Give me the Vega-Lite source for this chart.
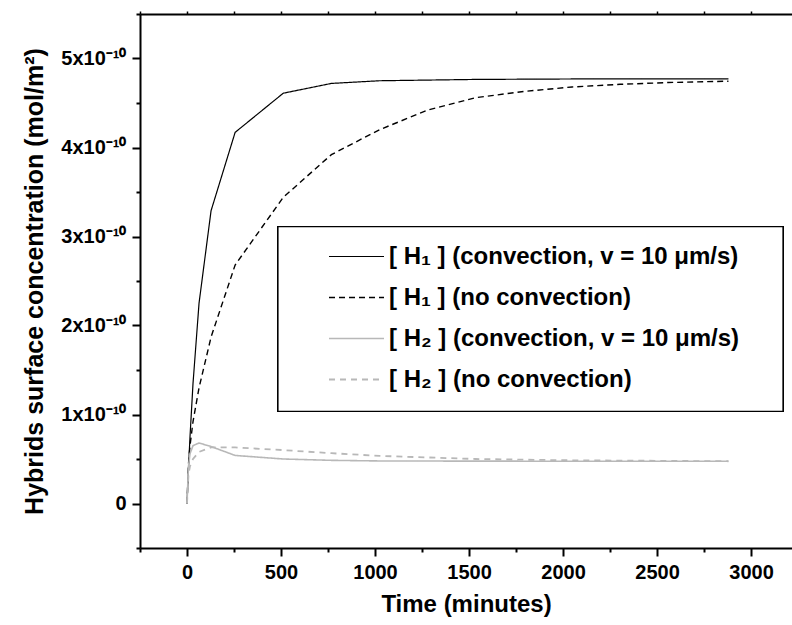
{
  "$schema": "https://vega.github.io/schema/vega-lite/v6.json",
  "width": 652,
  "height": 534,
  "autosize": {"type": "none"},
  "padding": {"left": 140, "top": 14, "right": 0, "bottom": 77},
  "background": "white",
  "config": {"view": {"stroke": null}, "font": "Liberation Sans"},
  "data": {
    "values": [
      {"t": 0, "c": 0, "s": "[ H₁ ] (convection, v = 10 μm/s)"},
      {"t": 8, "c": 0.4e-10, "s": "[ H₁ ] (convection, v = 10 μm/s)"},
      {"t": 16, "c": 0.75e-10, "s": "[ H₁ ] (convection, v = 10 μm/s)"},
      {"t": 32, "c": 1.35e-10, "s": "[ H₁ ] (convection, v = 10 μm/s)"},
      {"t": 64, "c": 2.25e-10, "s": "[ H₁ ] (convection, v = 10 μm/s)"},
      {"t": 128, "c": 3.29e-10, "s": "[ H₁ ] (convection, v = 10 μm/s)"},
      {"t": 256, "c": 4.17e-10, "s": "[ H₁ ] (convection, v = 10 μm/s)"},
      {"t": 512, "c": 4.61e-10, "s": "[ H₁ ] (convection, v = 10 μm/s)"},
      {"t": 768, "c": 4.72e-10, "s": "[ H₁ ] (convection, v = 10 μm/s)"},
      {"t": 1024, "c": 4.75e-10, "s": "[ H₁ ] (convection, v = 10 μm/s)"},
      {"t": 1536, "c": 4.765e-10, "s": "[ H₁ ] (convection, v = 10 μm/s)"},
      {"t": 2048, "c": 4.77e-10, "s": "[ H₁ ] (convection, v = 10 μm/s)"},
      {"t": 2880, "c": 4.77e-10, "s": "[ H₁ ] (convection, v = 10 μm/s)"},
      {"t": 0, "c": 0, "s": "[ H₁ ] (no convection)"},
      {"t": 8, "c": 0.45e-10, "s": "[ H₁ ] (no convection)"},
      {"t": 16, "c": 0.65e-10, "s": "[ H₁ ] (no convection)"},
      {"t": 32, "c": 0.92e-10, "s": "[ H₁ ] (no convection)"},
      {"t": 64, "c": 1.3e-10, "s": "[ H₁ ] (no convection)"},
      {"t": 128, "c": 1.87e-10, "s": "[ H₁ ] (no convection)"},
      {"t": 256, "c": 2.68e-10, "s": "[ H₁ ] (no convection)"},
      {"t": 512, "c": 3.44e-10, "s": "[ H₁ ] (no convection)"},
      {"t": 768, "c": 3.92e-10, "s": "[ H₁ ] (no convection)"},
      {"t": 1024, "c": 4.2e-10, "s": "[ H₁ ] (no convection)"},
      {"t": 1280, "c": 4.42e-10, "s": "[ H₁ ] (no convection)"},
      {"t": 1536, "c": 4.56e-10, "s": "[ H₁ ] (no convection)"},
      {"t": 1792, "c": 4.63e-10, "s": "[ H₁ ] (no convection)"},
      {"t": 2048, "c": 4.68e-10, "s": "[ H₁ ] (no convection)"},
      {"t": 2304, "c": 4.71e-10, "s": "[ H₁ ] (no convection)"},
      {"t": 2560, "c": 4.73e-10, "s": "[ H₁ ] (no convection)"},
      {"t": 2880, "c": 4.745e-10, "s": "[ H₁ ] (no convection)"},
      {"t": 0, "c": 0, "s": "[ H₂ ] (convection, v = 10 μm/s)"},
      {"t": 8, "c": 0.42e-10, "s": "[ H₂ ] (convection, v = 10 μm/s)"},
      {"t": 16, "c": 0.56e-10, "s": "[ H₂ ] (convection, v = 10 μm/s)"},
      {"t": 32, "c": 0.65e-10, "s": "[ H₂ ] (convection, v = 10 μm/s)"},
      {"t": 64, "c": 0.68e-10, "s": "[ H₂ ] (convection, v = 10 μm/s)"},
      {"t": 128, "c": 0.64e-10, "s": "[ H₂ ] (convection, v = 10 μm/s)"},
      {"t": 256, "c": 0.54e-10, "s": "[ H₂ ] (convection, v = 10 μm/s)"},
      {"t": 512, "c": 0.5e-10, "s": "[ H₂ ] (convection, v = 10 μm/s)"},
      {"t": 768, "c": 0.485e-10, "s": "[ H₂ ] (convection, v = 10 μm/s)"},
      {"t": 1024, "c": 0.478e-10, "s": "[ H₂ ] (convection, v = 10 μm/s)"},
      {"t": 1536, "c": 0.476e-10, "s": "[ H₂ ] (convection, v = 10 μm/s)"},
      {"t": 2048, "c": 0.475e-10, "s": "[ H₂ ] (convection, v = 10 μm/s)"},
      {"t": 2880, "c": 0.475e-10, "s": "[ H₂ ] (convection, v = 10 μm/s)"},
      {"t": 0, "c": 0, "s": "[ H₂ ] (no convection)"},
      {"t": 8, "c": 0.33e-10, "s": "[ H₂ ] (no convection)"},
      {"t": 16, "c": 0.42e-10, "s": "[ H₂ ] (no convection)"},
      {"t": 32, "c": 0.5e-10, "s": "[ H₂ ] (no convection)"},
      {"t": 64, "c": 0.58e-10, "s": "[ H₂ ] (no convection)"},
      {"t": 128, "c": 0.63e-10, "s": "[ H₂ ] (no convection)"},
      {"t": 256, "c": 0.63e-10, "s": "[ H₂ ] (no convection)"},
      {"t": 512, "c": 0.6e-10, "s": "[ H₂ ] (no convection)"},
      {"t": 768, "c": 0.565e-10, "s": "[ H₂ ] (no convection)"},
      {"t": 1024, "c": 0.535e-10, "s": "[ H₂ ] (no convection)"},
      {"t": 1536, "c": 0.5e-10, "s": "[ H₂ ] (no convection)"},
      {"t": 2048, "c": 0.485e-10, "s": "[ H₂ ] (no convection)"},
      {"t": 2880, "c": 0.475e-10, "s": "[ H₂ ] (no convection)"}
    ]
  },
  "layer": [
    {
      "mark": {"type": "rect", "fill": "white", "stroke": "black", "strokeWidth": 1.2},
      "encoding": {
        "x": {"datum": 484, "type": "quantitative", "axis": null},
        "x2": {"datum": 3170},
        "y": {"datum": 3.112e-10, "type": "quantitative"},
        "y2": {"datum": 1.034e-10}
      }
    },
    {
      "mark": {"type": "line", "clip": true},
      "encoding": {
        "x": {
          "field": "t", "type": "quantitative",
          "scale": {"domain": [-250, 3218], "nice": false, "zero": false},
          "axis": {
            "orient": "bottom",
            "values": [-250, 0, 250, 500, 750, 1000, 1250, 1500, 1750, 2000, 2250, 2500, 2750, 3000],
            "labelExpr": "datum.value >= 0 && datum.value % 500 == 0 ? '' + datum.value : ''",
            "labelFont": "Liberation Sans", "labelFontSize": 20, "labelFontWeight": "bold", "labelColor": "black",
            "labelPadding": 6, "labelOverlap": false, "labelBound": false, "labelFlush": false,
            "tickSize": {"condition": {"test": "datum.value % 500 == 0", "value": 8}, "value": 4},
            "tickWidth": 2, "tickColor": "black", "domainColor": "black", "domainWidth": 2, "grid": false,
            "title": "Time (minutes)", "titleFont": "Liberation Sans", "titleFontSize": 24, "titleFontWeight": "bold",
            "titleColor": "black", "titlePadding": 10
          }
        },
        "y": {
          "field": "c", "type": "quantitative",
          "scale": {"domain": [-5e-11, 5.5e-10], "nice": false, "zero": false},
          "axis": {
            "orient": "left",
            "values": [-5e-11, 0, 5e-11, 1e-10, 1.5e-10, 2e-10, 2.5e-10, 3e-10, 3.5e-10, 4e-10, 4.5e-10, 5e-10, 5.5e-10],
            "labelExpr": "abs(datum.value*1e10 - round(datum.value*1e10)) > 0.01 ? '' : (abs(datum.value) < 1e-12 ? '0' : format(round(datum.value*1e10), 'd') + 'x10⁻¹⁰')",
            "labelFont": "Liberation Sans", "labelFontSize": 20, "labelFontWeight": "bold", "labelColor": "black",
            "labelPadding": 6, "labelOverlap": false, "labelBound": false, "labelFlush": false,
            "tickSize": {"condition": {"test": "abs(datum.value*1e10 - round(datum.value*1e10)) < 0.01", "value": 8}, "value": 4},
            "tickWidth": 2, "tickColor": "black", "domainColor": "black", "domainWidth": 2, "grid": false,
            "title": "Hybrids surface concentration (mol/m²)", "titleFont": "Liberation Sans", "titleFontSize": 25,
            "titleFontWeight": "bold", "titleColor": "black", "titlePadding": 13
          }
        },
        "color": {
          "field": "s", "type": "nominal",
          "scale": {
            "domain": ["[ H₁ ] (convection, v = 10 μm/s)", "[ H₁ ] (no convection)", "[ H₂ ] (convection, v = 10 μm/s)", "[ H₂ ] (no convection)"],
            "range": ["#000000", "#000000", "#b8b8b8", "#b8b8b8"]
          },
          "legend": {
            "title": null, "orient": "none", "legendX": 139, "legendY": 214,
            "padding": 0,
            "symbolType": "stroke", "symbolSize": 3025, "symbolStrokeWidth": 1, "symbolOffset": 49,
            "labelOffset": 4, "labelFont": "Liberation Sans", "labelFontSize": 24, "labelFontWeight": "bold",
            "labelColor": "black", "labelLimit": 0, "rowPadding": -15
          }
        },
        "strokeDash": {
          "field": "s", "type": "nominal",
          "scale": {
            "domain": ["[ H₁ ] (convection, v = 10 μm/s)", "[ H₁ ] (no convection)", "[ H₂ ] (convection, v = 10 μm/s)", "[ H₂ ] (no convection)"],
            "range": [[1, 0], [6, 4], [1, 0], [6, 5]]
          },
          "legend": {
            "title": null, "orient": "none", "legendX": 139, "legendY": 214,
            "padding": 0,
            "symbolType": "stroke", "symbolSize": 3025, "symbolStrokeWidth": 1, "symbolOffset": 49,
            "labelOffset": 4, "labelFont": "Liberation Sans", "labelFontSize": 24, "labelFontWeight": "bold",
            "labelColor": "black", "labelLimit": 0, "rowPadding": -15
          }
        },
        "strokeWidth": {
          "field": "s", "type": "nominal",
          "scale": {
            "domain": ["[ H₁ ] (convection, v = 10 μm/s)", "[ H₁ ] (no convection)", "[ H₂ ] (convection, v = 10 μm/s)", "[ H₂ ] (no convection)"],
            "range": [1.2, 1.8, 1.2, 1.2]
          },
          "legend": null
        },
        "order": {"field": "t", "type": "quantitative"}
      }
    },
    {
      "mark": {"type": "point", "opacity": 0},
      "encoding": {
        "x": {
          "field": "t", "type": "quantitative",
          "axis": {
            "orient": "top",
            "values": [-250, 0, 250, 500, 750, 1000, 1250, 1500, 1750, 2000, 2250, 2500, 2750, 3000],
            "labels": false, "title": null, "tickSize": 3, "tickWidth": 1.5, "tickColor": "black",
            "domainColor": "black", "domainWidth": 2, "grid": false
          }
        },
        "y": {"field": "c", "type": "quantitative"}
      }
    }
  ],
  "resolve": {"axis": {"x": "independent"}}
}
